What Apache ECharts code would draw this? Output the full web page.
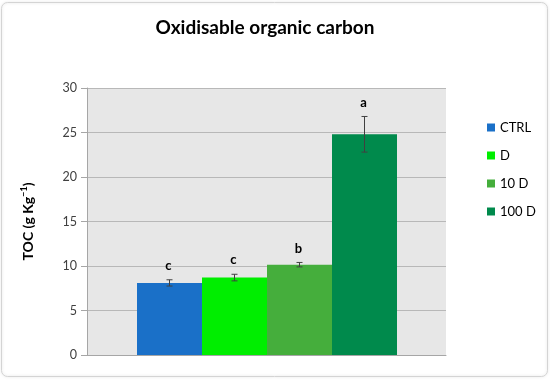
<!DOCTYPE html>
<html><head><meta charset="utf-8">
<script src="https://cdn.jsdelivr.net/npm/echarts@6/dist/echarts.min.js"></script>
<style>html,body{margin:0;padding:0;background:#fff}#c{width:550px;height:380px}</style>
</head><body><div id="c"></div>
<script>
var categories = ['CTRL', 'D', '10 D', '100 D'];
var values = [8.1, 8.7, 10.15, 24.8];
var errors = [0.35, 0.37, 0.25, 2.0];
var letters = ['c', 'c', 'b', 'a'];
var yTicks = [0, 5, 10, 15, 20, 25, 30];
var colors = ['#1a70c8', '#00ee00', '#45ae3c', '#008a4c'];

var FONT = 'Lato, "Open Sans", sans-serif';
var chart = echarts.init(document.getElementById('c'));

var series = categories.map(function (name, i) {
  var d = categories.map(function (_, j) { return j === i ? values[i] : '-'; });
  return {
    name: name, type: 'bar', xAxisIndex: 1, yAxisIndex: 1,
    data: d, barGap: '-100%', barCategoryGap: '0%',
    itemStyle: { color: colors[i] }, silent: true
  };
});

series.push({
  type: 'custom', xAxisIndex: 1, yAxisIndex: 1, silent: true, z: 5,
  data: values.map(function (v, i) { return [i, v, errors[i]]; }),
  renderItem: function (params, api) {
    var i = api.value(0), v = api.value(1), e = api.value(2);
    var top = api.coord([i, v + e]);
    var bot = api.coord([i, v - e]);
    var x = top[0], w = 3;
    var st = { stroke: '#404040', lineWidth: 1 };
    return {
      type: 'group', children: [
        { type: 'line', shape: { x1: x, y1: top[1], x2: x, y2: bot[1] }, style: st },
        { type: 'line', shape: { x1: x - w, y1: top[1], x2: x + w, y2: top[1] }, style: st },
        { type: 'line', shape: { x1: x - w, y1: bot[1], x2: x + w, y2: bot[1] }, style: st },
        { type: 'text', x: x - 1, y: top[1] - 14,
          style: { text: letters[i], font: 'bold 13px ' + FONT, fill: '#000', align: 'center', verticalAlign: 'middle' } }
      ]
    };
  }
});

chart.setOption({
  animation: false,
  graphic: [{
    type: 'rect', shape: { x: 1.5, y: 2.5, width: 546, height: 374, r: 6 },
    style: { fill: 'none', stroke: '#d4d4d4', lineWidth: 1, shadowBlur: 3, shadowColor: 'rgba(0,0,0,0.15)' }, z: -10
  }],
  title: {
    text: 'Oxidisable organic carbon', left: 260, top: 13, textAlign: 'center',
    textStyle: { fontFamily: FONT, fontWeight: 'bold', fontSize: 19, color: '#000' }
  },
  legend: {
    orient: 'vertical', left: 482, top: 116, itemWidth: 8, itemHeight: 8, itemGap: 15,
    icon: 'rect', data: categories,
    textStyle: { fontFamily: FONT, fontSize: 13, color: '#000' }
  },
  grid: [
    { left: 87, right: 104, top: 88, bottom: 25, show: true, backgroundColor: '#e7e7e7', borderWidth: 0 },
    { left: 137, right: 153, top: 88, bottom: 25 }
  ],
  xAxis: [
    { type: 'category', gridIndex: 0, data: [''], axisLabel: { show: false }, axisTick: { show: false },
      axisLine: { lineStyle: { color: '#a6a6a6' } } },
    { type: 'category', gridIndex: 1, data: categories, show: false }
  ],
  yAxis: [
    { type: 'value', gridIndex: 0, min: 0, max: 30, interval: 5,
      name: '{m|TOC (g Kg}{s|−1}{m|)}', nameLocation: 'middle', nameGap: 51,
      nameTextStyle: { rich: {
        m: { fontFamily: FONT, fontWeight: 'bold', fontSize: 14, color: '#000' },
        s: { fontFamily: FONT, fontWeight: 'bold', fontSize: 9, color: '#000', verticalAlign: 'top', padding: [0, 0, 7, 0] } } },
      axisLine: { show: true, lineStyle: { color: '#a6a6a6' } },
      axisTick: { show: true, length: 6, lineStyle: { color: '#a6a6a6' } },
      axisLabel: { fontFamily: FONT, fontSize: 12.5, color: '#404040', margin: 10,
        formatter: function (v) { return yTicks.indexOf(v) >= 0 ? String(v) : ''; } },
      splitLine: { lineStyle: { color: '#b8b8b8' } } },
    { type: 'value', gridIndex: 1, min: 0, max: 30, interval: 5, show: false, splitLine: { show: false } }
  ],
  series: series
});
</script></body></html>
